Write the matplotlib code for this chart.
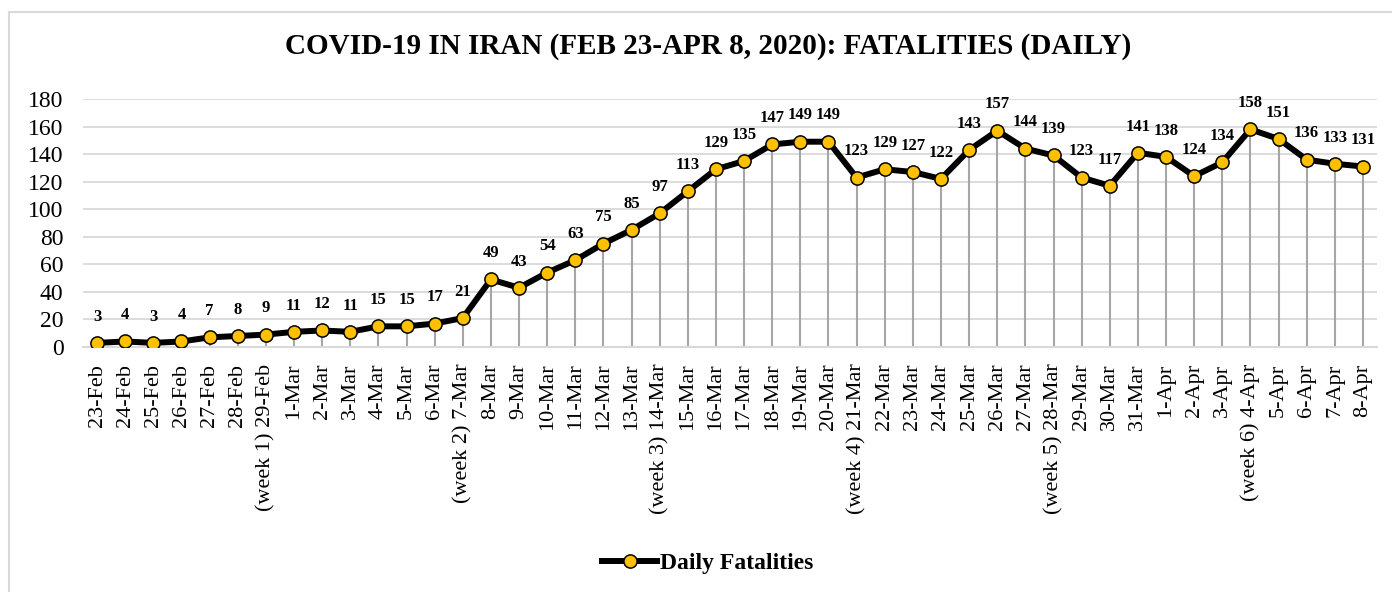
import matplotlib
matplotlib.use("Agg")
import matplotlib.pyplot as plt
from matplotlib.lines import Line2D

dates = ["23-Feb", "24-Feb", "25-Feb", "26-Feb", "27-Feb", "28-Feb", "(week 1) 29-Feb",
         "1-Mar", "2-Mar", "3-Mar", "4-Mar", "5-Mar", "6-Mar", "(week 2) 7-Mar",
         "8-Mar", "9-Mar", "10-Mar", "11-Mar", "12-Mar", "13-Mar", "(week 3) 14-Mar",
         "15-Mar", "16-Mar", "17-Mar", "18-Mar", "19-Mar", "20-Mar", "(week 4) 21-Mar",
         "22-Mar", "23-Mar", "24-Mar", "25-Mar", "26-Mar", "27-Mar", "(week 5) 28-Mar",
         "29-Mar", "30-Mar", "31-Mar", "1-Apr", "2-Apr", "3-Apr", "(week 6) 4-Apr",
         "5-Apr", "6-Apr", "7-Apr", "8-Apr"]
fatalities = [3, 4, 3, 4, 7, 8, 9,
              11, 12, 11, 15, 15, 17, 21,
              49, 43, 54, 63, 75, 85, 97,
              113, 129, 135, 147, 149, 149, 123,
              129, 127, 122, 143, 157, 144, 139,
              123, 117, 141, 138, 124, 134, 158,
              151, 136, 133, 131]
yticks = list(range(0, 181, 20))

plt.rcParams['font.family'] = ['Liberation Serif', 'DejaVu Serif']

W, H = 1392, 592
fig = plt.figure(figsize=(W / 100, H / 100), dpi=100)
ax = fig.add_axes([83 / W, 1 - 347 / H, (1377 - 83) / W, (347 - 99) / H])

x = list(range(len(dates)))
grid_c = '#D9D9D9'
for v in yticks[1:]:
    ax.axhline(v, color=grid_c, lw=1.3, zorder=0)
ax.vlines(x, 0, fatalities, color='#A6A6A6', lw=1.5, zorder=1)
ax.plot(x, fatalities, color='black', lw=4.3, marker='o', markersize=9.5,
        markerfacecolor='#FFC000', markeredgecolor='black', markeredgewidth=1.1,
        zorder=3, solid_joinstyle='round')
for xi, v in zip(x, fatalities):
    ax.annotate(str(v), (xi, v), xytext=(0, 16), textcoords='offset points',
                ha='center', va='baseline', fontsize=12, fontweight='bold')

ax.set_xlim(-0.5, len(dates) - 0.5)
ax.set_ylim(0, 180)
ax.set_yticks(yticks)
ax.set_xticks(x)
ax.set_xticklabels(dates, rotation=90, fontsize=16)
ax.tick_params(axis='y', labelsize=17, length=0, pad=14)
ax.tick_params(axis='x', length=0, pad=12)
for s in ['top', 'right', 'left']:
    ax.spines[s].set_visible(False)
ax.spines['bottom'].set_color(grid_c)
ax.spines['bottom'].set_linewidth(1.5)

fig.text(708 / W, 1 - 47 / H, "COVID-19 IN IRAN (FEB 23-APR 8, 2020): FATALITIES (DAILY)",
         ha='center', va='center', fontsize=21, fontweight='bold')

handle = Line2D([], [], color='black', lw=4.3, marker='o', markersize=9.5,
                markerfacecolor='#FFC000', markeredgecolor='black', markeredgewidth=1.1)
fig.legend([handle], ["Daily Fatalities"], loc='center', bbox_to_anchor=(708 / W, 1 - 563 / H),
           frameon=False, prop={'weight': 'bold', 'size': 17}, handlelength=2.3,
           handletextpad=0.15, borderpad=0)

# chart border
fig.add_artist(Line2D([9 / W, 1], [1 - 12 / H, 1 - 12 / H], color=grid_c, lw=1.5,
                      transform=fig.transFigure))
fig.add_artist(Line2D([9 / W, 9 / W], [1 - 12 / H, 0], color=grid_c, lw=1.5,
                      transform=fig.transFigure))

fig.savefig("out.png", dpi=100)
